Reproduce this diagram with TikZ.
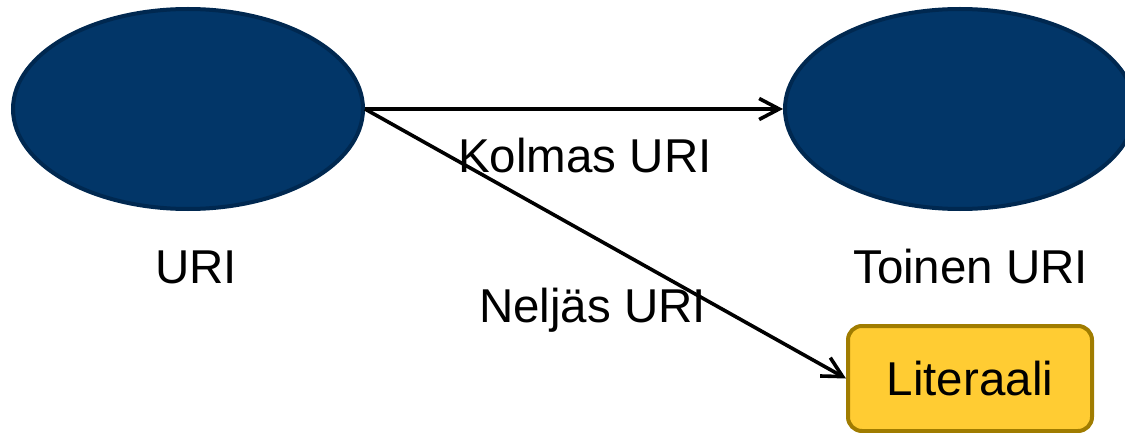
\documentclass[tikz,border=0pt]{standalone}
\usepackage{fontspec}
\setmainfont{Liberation Sans}
\usetikzlibrary{arrows.meta,shapes.geometric}
\definecolor{urifill}{RGB}{2,54,104}
\definecolor{uriedge}{RGB}{0,40,80}
\definecolor{litfill}{RGB}{255,204,51}
\definecolor{litedge}{RGB}{160,124,0}
\begin{document}
\begin{tikzpicture}[x=1pt,y=-1pt,
  urinode/.style={ellipse,draw=uriedge,fill=urifill,line width=4pt,minimum width=350pt,minimum height=200pt,inner sep=0pt},
  litnode/.style={rectangle,rounded corners=14pt,draw=litedge,fill=litfill,line width=4pt,minimum width=244pt,minimum height=105pt,inner sep=0pt,font=\fontsize{47.5}{57}\selectfont},
  lbl/.style={anchor=base west,inner sep=0pt,font=\fontsize{47.5}{57}\selectfont},
  link/.style={line width=3.6pt,-{Straight Barb[length=20pt,width=21pt,line width=3.6pt]}}]
\useasboundingbox (0,0) rectangle (1125,433);
\clip (0,0) rectangle (1125,433);
\node[urinode] (a) at (188,109) {};
\node[urinode] (b) at (960,109) {};
\node[litnode] (lit) at (970,378.5) {Literaali};
\draw[link] (a.east) -- (b.west);
\draw[link] (a.east) -- (lit.west);
\node[lbl] (ka) at (155,283) {URI};
\node[lbl] (kb) at (853,283) {Toinen URI};
\node[lbl] (kc) at (458,173) {Kolmas URI};
\node[lbl] (kd) at (479,322) {Neljäs URI};
\end{tikzpicture}
\end{document}
